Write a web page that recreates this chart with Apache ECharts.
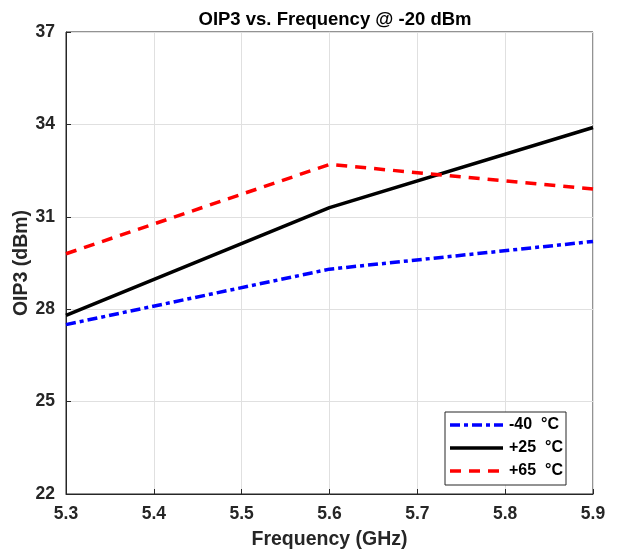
<!DOCTYPE html>
<html><head><meta charset="utf-8">
<script src="https://cdn.jsdelivr.net/npm/echarts@6/dist/echarts.min.js"></script>
<style>html,body{margin:0;padding:0;background:#fff}#c{width:619px;height:554px}</style>
</head><body><div id="c"></div>
<script>
const freqs = [5.3, 5.6, 5.9];
const m40 = [27.5, 29.3, 30.2];
const p25 = [27.8, 31.3, 33.9];
const p65 = [29.8, 32.7, 31.9];
const names = ['-40  \u00B0C', '+25  \u00B0C', '+65  \u00B0C'];
const colors = ['#0000ff', '#000000', '#ff0000'];
const dashes = [[10, 4, 4, 4], 'solid', [11, 8]];
const pair = (v) => freqs.map((f, i) => [f, v[i]]);
const font = 'Liberation Sans, Arial, Helvetica, sans-serif';
const chart = echarts.init(document.getElementById('c'));

const legendEls = [{type: 'rect', shape: {x: 445, y: 412, width: 121, height: 73},
  style: {fill: '#fff', stroke: '#262626', lineWidth: 1}, z: 100}];
names.forEach((n, i) => {
  const y = 425 + i * 23;
  legendEls.push({type: 'line', shape: {x1: 450, y1: y, x2: 503, y2: y},
    style: {stroke: colors[i], lineWidth: 3.5, lineDash: dashes[i] === 'solid' ? null : dashes[i]}, z: 101});
  legendEls.push({type: 'text', x: 509, y: y, style: {text: n, fill: '#000', font: 'bold 16px ' + font,
    textVerticalAlign: 'middle', textAlign: 'left'}, z: 101});
});

chart.setOption({
  animation: false,
  title: {text: 'OIP3 vs. Frequency @ -20 dBm', left: 330, textAlign: 'center', top: 5,
    textStyle: {fontFamily: font, fontWeight: 'bold', fontSize: 18.5, color: '#000'}},
  grid: {left: 66, right: 26, top: 32, bottom: 60, show: true, borderColor: '#262626', borderWidth: 1,
    containLabel: false, outerBoundsMode: 'none'},
  xAxis: {type: 'value', min: 5.3, max: 5.9, interval: 0.1,
    name: 'Frequency (GHz)', nameLocation: 'middle', nameGap: 36, nameMoveOverlap: false,
    nameTextStyle: {fontFamily: font, fontWeight: 'bold', fontSize: 19.5, color: '#262626'},
    axisLine: {show: true, lineStyle: {color: '#262626'}},
    axisTick: {show: true, inside: true, length: 5, lineStyle: {color: '#262626'}},
    axisLabel: {fontFamily: font, fontWeight: 'bold', fontSize: 17.5, color: '#262626', margin: 11,
      formatter: v => v.toFixed(1)},
    splitLine: {show: true, lineStyle: {color: '#e0e0e0'}}},
  yAxis: {type: 'value', min: 22, max: 37, interval: 3,
    name: 'OIP3 (dBm)', nameLocation: 'middle', nameGap: 34, nameMoveOverlap: false,
    nameTextStyle: {fontFamily: font, fontWeight: 'bold', fontSize: 19.5, color: '#262626'},
    axisLine: {show: true, lineStyle: {color: '#262626'}},
    axisTick: {show: true, inside: true, length: 5, lineStyle: {color: '#262626'}},
    axisLabel: {fontFamily: font, fontWeight: 'bold', fontSize: 17.5, color: '#262626', margin: 11},
    splitLine: {show: true, lineStyle: {color: '#e0e0e0'}}},
  graphic: legendEls,
  series: [
    {name: names[0], type: 'line', data: pair(m40), symbol: 'none', lineStyle: {color: colors[0], width: 3.5, type: dashes[0]}},
    {name: names[1], type: 'line', data: pair(p25), symbol: 'none', lineStyle: {color: colors[1], width: 3.5, type: dashes[1]}},
    {name: names[2], type: 'line', data: pair(p65), symbol: 'none', lineStyle: {color: colors[2], width: 3.5, type: dashes[2]}}
  ]
});
</script></body></html>
